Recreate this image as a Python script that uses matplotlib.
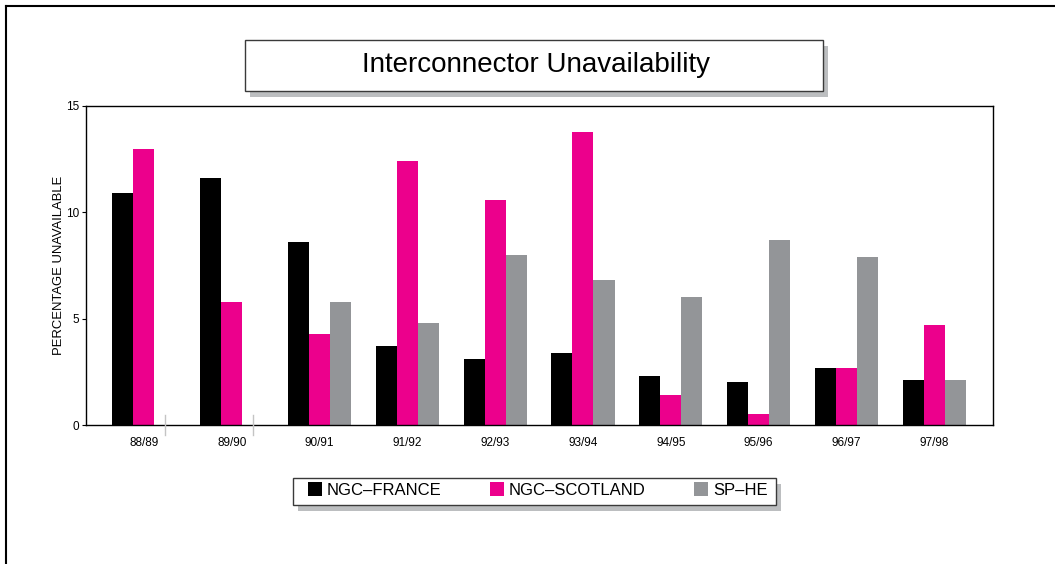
import matplotlib
matplotlib.use("Agg")
import matplotlib.pyplot as plt
from matplotlib.patches import Rectangle
from matplotlib.lines import Line2D
import numpy as np

# Interconnector unavailability by season (% of time unavailable)
seasons = ["88/89", "89/90", "90/91", "91/92", "92/93",
           "93/94", "94/95", "95/96", "96/97", "97/98"]
ngc_france = [10.9, 11.6, 8.6, 3.7, 3.1, 3.4, 2.3, 2.0, 2.7, 2.1]
ngc_scotland = [13.0, 5.8, 4.3, 12.4, 10.6, 13.8, 1.4, 0.5, 2.7, 4.7]
sp_he = [0.0, 0.0, 5.8, 4.8, 8.0, 6.8, 6.0, 8.7, 7.9, 2.1]
series_names = ["NGC\u2013FRANCE", "NGC\u2013SCOTLAND", "SP\u2013HE"]
series_colors = ["#000000", "#EC008C", "#939598"]
y_ticks = [0, 5, 10, 15]
title_text = "Interconnector Unavailability"
y_label = "PERCENTAGE UNAVAILABLE"

plt.rcParams['font.family'] = ['Liberation Sans', 'DejaVu Sans']

W, H = 1055, 564
fig = plt.figure(figsize=(W / 100, H / 100), dpi=100)


def fx(px):
    return px / W


def fy(py):
    return 1 - py / H


def boxed(x0, y0, x1, y1, shadow=(5, 6)):
    """Framed white box with an offset grey drop shadow (pixel coords)."""
    sx, sy = shadow
    fig.add_artist(Rectangle((fx(x0 + sx), fy(y1 + sy)), fx(x1 - x0), fy(y0) - fy(y1),
                             transform=fig.transFigure, facecolor="#bcbec0",
                             edgecolor="none", zorder=1))
    fig.add_artist(Rectangle((fx(x0), fy(y1)), fx(x1 - x0), fy(y0) - fy(y1),
                             transform=fig.transFigure, facecolor="white",
                             edgecolor="#3a3a3a", linewidth=1.0, zorder=2))


# page frame (top and left rules)
fig.add_artist(Line2D([fx(6), 1.0], [fy(6), fy(6)], transform=fig.transFigure,
                      color="black", linewidth=1.5))
fig.add_artist(Line2D([fx(6), fx(6)], [fy(6), 0.0], transform=fig.transFigure,
                      color="black", linewidth=1.5))

# title panel
boxed(245, 40, 823, 91)
fig.text(fx(536), fy(65), title_text, ha="center", va="center",
         fontsize=20, zorder=3)

# main plot
ax = fig.add_axes([fx(86), fy(425), fx(993) - fx(86), fy(106) - fy(425)])
x = np.arange(len(seasons))
width = 0.24
offsets = [-width, 0.0, width]
series = [ngc_france, ngc_scotland, sp_he]
handles = []
for vals, name, color, off in zip(series, series_names, series_colors, offsets):
    bars = ax.bar(x + off, vals, width, color=color, label=name, linewidth=0)
    handles.append(bars)
    # a season with no reading shows as a faint stub across the axis
    for xi, v in zip(x + off, vals):
        if v == 0:
            ax.plot([xi, xi], [-0.47, 0.47], color="#c4c4c4", linewidth=1.0,
                    clip_on=False, zorder=4)

ax.set_xlim(-0.66, 9.67)
ax.set_ylim(0, 15)
ax.set_yticks(y_ticks)
ax.set_xticks(x, seasons)
ax.tick_params(axis="x", length=0, pad=9, labelsize=8.5)
ax.tick_params(axis="y", length=3, width=0.8, pad=2, labelsize=8.5)
for sp in ax.spines.values():
    sp.set_linewidth(1.0)
    sp.set_color("black")
ax.set_ylabel(y_label, fontsize=9.4)
ax.yaxis.set_label_coords(-0.023, 0.5)

# legend panel
boxed(293, 478, 776, 505)
leg = fig.legend(handles, series_names, loc="center left",
                 bbox_to_anchor=(fx(308), fy(490)), frameon=False, ncol=3,
                 fontsize=12, handlelength=0.84, handleheight=0.84,
                 handletextpad=0.3, columnspacing=2.9, borderpad=0,
                 borderaxespad=0)
leg.set_zorder(5)

fig.savefig("out.png", dpi=100)
